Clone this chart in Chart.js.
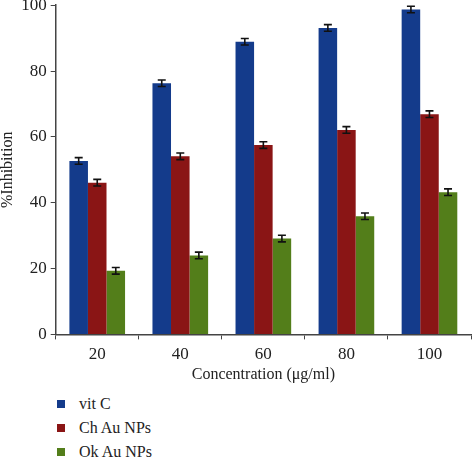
<!DOCTYPE html>
<html>
<head>
<meta charset="utf-8">
<script src="https://cdn.jsdelivr.net/npm/chart.js@4"></script>
<style>
  body { margin: 0; background: #fff; overflow: hidden; }
  #wrap { position: relative; width: 473px; height: 458px; overflow: hidden; }
  #box { position: absolute; left: 0; top: -9px; width: 473px; height: 397px; }
  #legend { position: absolute; left: 57px; top: 392px; font: 16px "Liberation Serif", serif; color: #222; }
  .item { height: 24px; line-height: 24px; display: flex; align-items: center; }
  .sw { width: 8px; height: 8px; margin-right: 14px; }
</style>
</head>
<body>
<div id="wrap">
  <div id="box"><canvas id="chart"></canvas></div>
  <div id="legend"></div>
</div>
<script>
// %Inhibition vs concentration

const CONCENTRATIONS = ["20", "40", "60", "80", "100"];
const VIT_C = [52.7, 76.3, 88.9, 93.1, 98.7];
const CH_AU = [46.1, 54.1, 57.5, 62.1, 66.9];
const OK_AU = [19.3, 24.0, 29.1, 35.9, 43.2];
const VIT_C_ERR = [1.0, 1.0, 1.0, 1.0, 1.0];
const CH_AU_ERR = [1.0, 1.0, 1.0, 1.0, 1.0];
const OK_AU_ERR = [1.0, 1.0, 1.0, 1.0, 1.0];
const Y_TICKS = [0, 20, 40, 60, 80, 100];

const SERIES = [
  { label: "vit C", data: VIT_C, err: VIT_C_ERR, color: "#143b8b" },
  { label: "Ch Au NPs", data: CH_AU, err: CH_AU_ERR, color: "#8a1515" },
  { label: "Ok Au NPs", data: OK_AU, err: OK_AU_ERR, color: "#537e1a" },
];

const FONT = { family: "'Liberation Serif', serif", size: 16 };
const TICK_FONT = { family: "'Liberation Serif', serif", size: 17 };

// ===== Error bars =====
const errorBars = {
  id: "errorBars",
  afterDatasetsDraw(chart) {
    const ctx = chart.ctx;
    const y = chart.scales.y;
    ctx.save();
    ctx.strokeStyle = "#111";
    ctx.lineWidth = 1.6;
    chart.data.datasets.forEach((ds, i) => {
      const meta = chart.getDatasetMeta(i);
      meta.data.forEach((bar, j) => {
        const v = ds.data[j];
        const e = ds.errors[j];
        const top = y.getPixelForValue(v + e);
        const bot = y.getPixelForValue(v - e);
        const x = bar.x;
        ctx.beginPath();
        ctx.moveTo(x, top); ctx.lineTo(x, bot);
        ctx.moveTo(x - 4, top); ctx.lineTo(x + 4, top);
        ctx.moveTo(x - 4, bot); ctx.lineTo(x + 4, bot);
        ctx.stroke();
      });
    });
    ctx.restore();
  },
};

new Chart(document.getElementById("chart"), {
  type: "bar",
  data: {
    labels: CONCENTRATIONS,
    datasets: SERIES.map((s) => ({
      label: s.label,
      data: s.data,
      errors: s.err,
      backgroundColor: s.color,
      borderWidth: 0,
      categoryPercentage: 0.67,
      barPercentage: 1.0,
    })),
  },
  options: {
    responsive: true,
    maintainAspectRatio: false,
    animation: false,
    layout: { padding: { top: 0, right: 2, left: -2, bottom: 0 } },
    plugins: { legend: { display: false }, tooltip: { enabled: false } },
    scales: {
      x: {
        grid: { display: true, drawOnChartArea: false, offset: true, color: "#444", tickLength: 5 },
        border: { color: "#444", width: 1.5 },
        ticks: { color: "#222", font: TICK_FONT, padding: 5 },
        title: { display: true, text: "Concentration (\u03bcg/ml)", color: "#222", font: FONT, padding: { top: -5 } },
      },
      y: {
        min: 0,
        max: 100,
        afterBuildTicks: (axis) => { axis.ticks = Y_TICKS.map((v) => ({ value: v })); },
        grid: { display: true, drawOnChartArea: false, color: "#444", tickLength: 5 },
        border: { color: "#444", width: 1.5 },
        ticks: { color: "#222", font: TICK_FONT, padding: 4 },
        title: { display: true, text: "%Inhibition", color: "#222", font: FONT, padding: 0 },
      },
    },
  },
  plugins: [errorBars],
});

// ===== Legend =====
document.getElementById("legend").innerHTML = SERIES.map(
  (s) => `<div class="item"><span class="sw" style="background:${s.color}"></span>${s.label}</div>`
).join("");
</script>
</body>
</html>
